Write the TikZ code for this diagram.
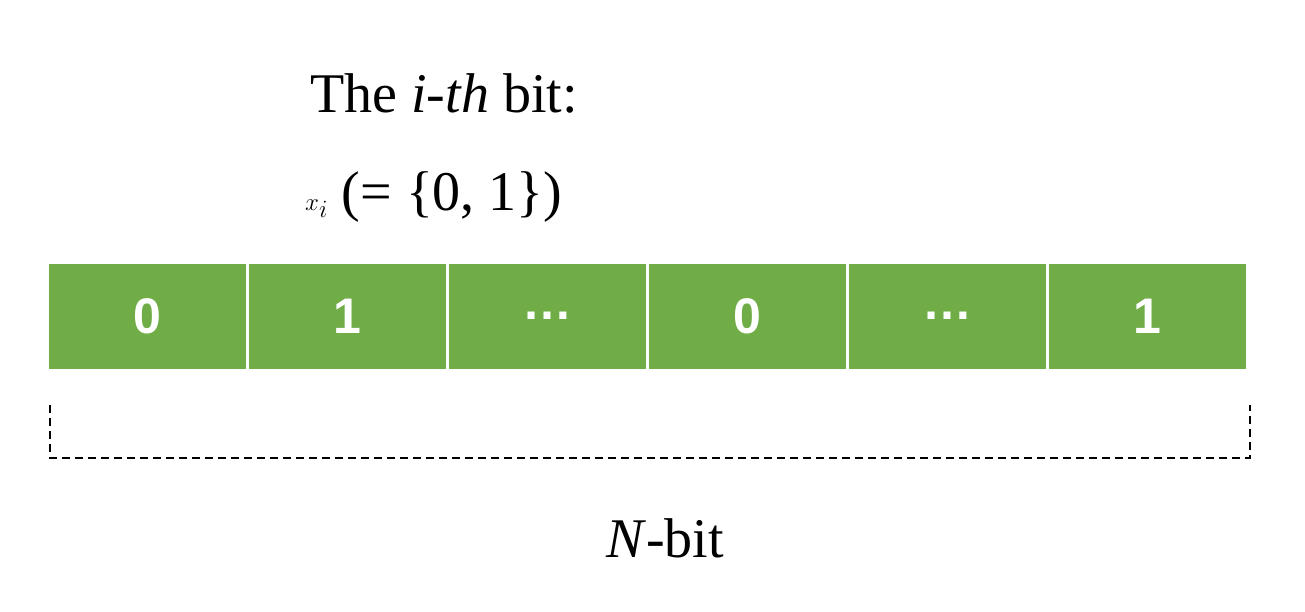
\documentclass[tikz,border=0pt]{standalone}
\usepackage{fontspec}
\setmainfont{Liberation Serif}
\newfontfamily\cellfont{Liberation Sans}
\definecolor{cgreen}{HTML}{70AD47}
\begin{document}
\begin{tikzpicture}[x=1pt,y=-1pt,
  cell/.style={fill=cgreen,draw=white,line width=3pt,minimum width=200pt,minimum height=108pt,inner sep=0pt,text=white,font=\cellfont\bfseries\fontsize{50}{54}\selectfont},
  lbl/.style={anchor=base west,inner sep=0pt,font=\fontsize{56}{62}\selectfont}]
\useasboundingbox (0,0) rectangle (1305,611);
\foreach \t [count=\i] in {0,1,\dots,0,\dots,1}
  \node[cell] (c\i) at (47+200*\i-100,316) {\t};
\node[lbl] (t1) at (310,112) {The \textit{i-th} bit:};
\node[lbl] (t2) at (305,210) {$x_i$ (= \{0, 1\})};
\coordinate (bl) at (50,405);
\coordinate (br) at (1250,405);
\draw[dashed,line width=1.5pt,dash pattern=on 8pt off 5pt] (bl) |- (1250,458) -- (br);
\node[lbl,anchor=base] (n) at (665,557) {\textit{N}-bit};
\end{tikzpicture}
\end{document}
